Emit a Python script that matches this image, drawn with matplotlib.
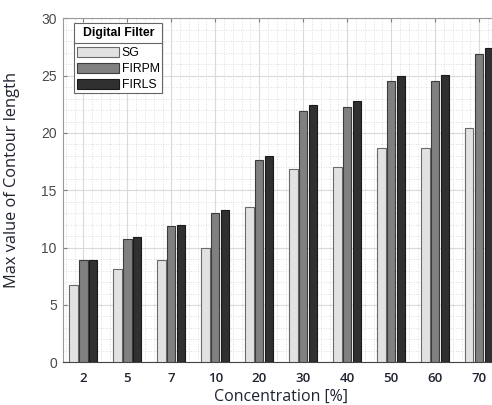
import matplotlib.pyplot as plt
import matplotlib.lines as mlines
import matplotlib.patches as mpatches
import numpy as np

concentrations = ["2", "5", "7", "10", "20", "30", "40", "50", "60", "70"]
sg = [6.7, 8.15, 8.95, 10.0, 13.55, 16.85, 17.05, 18.7, 18.7, 20.4]
firpm = [8.9, 10.75, 11.85, 13.05, 17.6, 21.95, 22.25, 24.5, 24.55, 26.9]
firls = [8.95, 10.9, 12.0, 13.25, 18.0, 22.45, 22.75, 25.0, 25.05, 27.4]

series = [("SG", sg, "#e2e2e2", "#6a6a6a"),
          ("FIRPM", firpm, "#808080", "#3c3c3c"),
          ("FIRLS", firls, "#303030", "#1a1a1a")]

W, H = 492, 405
fig = plt.figure(figsize=(W / 100, H / 100), dpi=100)
ax = fig.add_axes([0.1287, 0.1054, 0.886, 0.8494])


def fpos(px, py):
    # pixel position (from top-left) -> figure fraction
    return px / W, 1 - py / H


x = np.arange(1, len(concentrations) + 1)
offsets = [-0.225, 0.0, 0.225]
handles = []
for (name, vals, fc, ec), off in zip(series, offsets):
    b = ax.bar(x + off, vals, width=0.19, color=fc, edgecolor=ec,
               linewidth=0.8, label=name, zorder=3)
    handles.append(b)

ax.set_xlim(0.545, 10.455)
ax.set_ylim(0, 30)
ax.set_xticks(x)
ax.set_xticklabels(concentrations, family="Open Sans", fontsize=9.5,
                   color="#1f2330", fontweight="semibold")
ax.set_yticks(np.arange(0, 31, 5))
ax.set_yticklabels([str(v) for v in range(0, 31, 5)],
                   family="Liberation Sans", fontsize=10, color="#4a4a4a")
ax.set_xticks(np.arange(0.6, 10.45, 0.2), minor=True)
ax.set_yticks(np.arange(0, 30.1, 1), minor=True)

ax.grid(True, which="major", color="#dadada", linewidth=0.8, zorder=0)
ax.grid(True, which="minor", color="#d2d2d2", linewidth=0.6,
        linestyle=(0, (1, 2)), zorder=0)
ax.set_axisbelow(True)

ax.tick_params(axis="x", which="major", direction="in", length=3,
               top=True, pad=7, color="#808080")
ax.tick_params(axis="y", which="major", direction="in", length=3,
               pad=4.7, color="#808080")
ax.tick_params(which="minor", length=0)
for side in ["left", "top", "right"]:
    ax.spines[side].set_color("#9a9a9a")
ax.spines["bottom"].set_color("#444444")

ax.set_xlabel("Concentration [%]", family="Open Sans", fontsize=11.5,
              color="#1f2330", labelpad=3)
ax.set_ylabel("Max value of Contour length", family="Open Sans",
              fontsize=11.8, color="#1f2330", labelpad=8)
ax.yaxis.set_label_coords(-0.1, 0.53)

# legend: frame, bold title and separator drawn by hand, entries from fig.legend
fx0, fy1 = fpos(74, 22.7)
fx1, fy0 = fpos(162.3, 93.3)
fig.add_artist(mpatches.Rectangle((fx0, fy0), fx1 - fx0, fy1 - fy0,
                                  transform=fig.transFigure, facecolor="white",
                                  edgecolor="#666666", linewidth=0.8, zorder=4))
_, fsep = fpos(0, 42.7)
fig.add_artist(mlines.Line2D([fx0, fx1], [fsep, fsep], color="#666666",
                             linewidth=0.8, zorder=5))
tx, ty = fpos(118.2, 33)
fig.text(tx, ty, "Digital Filter", family="Liberation Sans", fontsize=8.8,
         fontweight="bold", ha="center", va="center", zorder=5)

leg = fig.legend(handles=handles, labels=[s[0] for s in series],
                 loc="upper left", bbox_to_anchor=fpos(77, 47),
                 bbox_transform=fig.transFigure, borderaxespad=0,
                 prop={"family": "Liberation Sans", "size": 8.8},
                 handlelength=3.4, handleheight=0.9, handletextpad=0.25,
                 labelspacing=0.3, borderpad=0, frameon=False)
leg.set_zorder(6)

fig.savefig("out.png", dpi=100)
